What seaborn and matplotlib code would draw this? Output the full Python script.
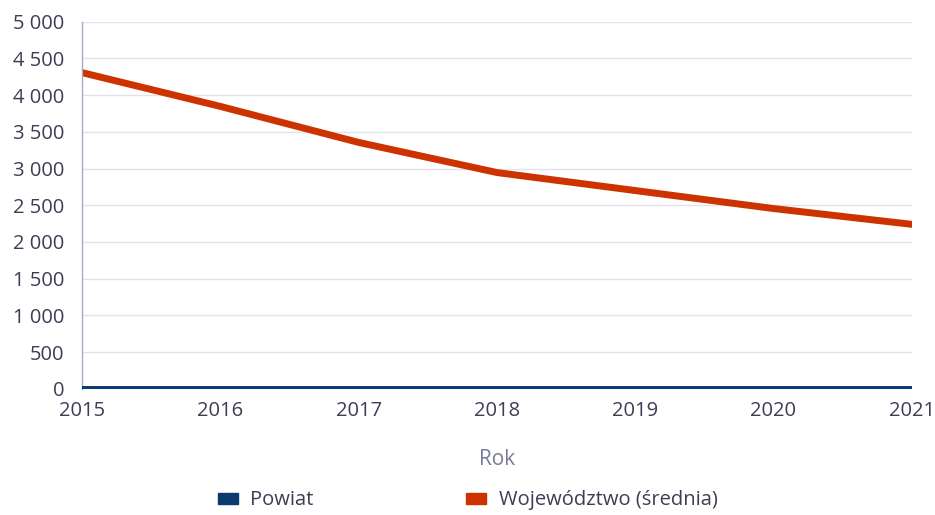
import matplotlib
matplotlib.use("Agg")
import matplotlib.pyplot as plt
import matplotlib.ticker as mticker
from matplotlib.patches import Patch
import pandas as pd
import seaborn as sns

years = [2015, 2016, 2017, 2018, 2019, 2020, 2021]
powiat = [0, 0, 0, 0, 0, 0, 0]
wojewodztwo = [4305, 3845, 3355, 2945, 2700, 2455, 2240]
series_names = ["Powiat", "Województwo (średnia)"]
colors = ["#0b3a6e", "#cc3300"]

df = pd.DataFrame({
    "Rok": years * 2,
    "value": powiat + wojewodztwo,
    "series": [series_names[0]] * len(years) + [series_names[1]] * len(years),
})

sns.set_style("white")
plt.rcParams["font.family"] = ["Open Sans", "DejaVu Sans"]

fig, ax = plt.subplots(figsize=(9.35, 5.15), dpi=100)
fig.subplots_adjust(left=0.088, right=0.975, top=0.958, bottom=0.245)

sns.lineplot(data=df, x="Rok", y="value", hue="series", palette=colors,
             linewidth=5, ax=ax, legend=False)
ax.lines[0].set_zorder(4)

ax.set_xlim(2015, 2021)
ax.set_ylim(0, 5000)
ax.yaxis.set_major_locator(mticker.MultipleLocator(500))
ax.yaxis.set_major_formatter(mticker.FuncFormatter(lambda v, p: f"{int(v):,}".replace(",", " ")))
ax.set_xticks(years)

ax.grid(axis="y", color="#e2e2ee", linewidth=1)
ax.set_axisbelow(True)
for s in ["top", "right", "bottom"]:
    ax.spines[s].set_visible(False)
ax.spines["left"].set_color("#a8a8c8")
ax.spines["left"].set_linewidth(1)
ax.tick_params(axis="both", length=0, labelsize=14.5, labelcolor="#3d3d55")
ax.tick_params(axis="y", pad=13)
ax.tick_params(axis="x", pad=9)

ax.set_ylabel("")
ax.set_xlabel("Rok", fontsize=15, color="#7a7a9a", labelpad=20)

handles = [Patch(color=c, label=n) for c, n in zip(colors, series_names)]
fig.legend(handles=handles, loc="lower center", ncol=2, frameon=False,
           fontsize=14.5, labelcolor="#3d3d55", bbox_to_anchor=(0.5, -0.026),
           handlelength=1.0, handleheight=0.45, columnspacing=7.6, handletextpad=0.6)

plt.savefig("out.png", dpi=100)
